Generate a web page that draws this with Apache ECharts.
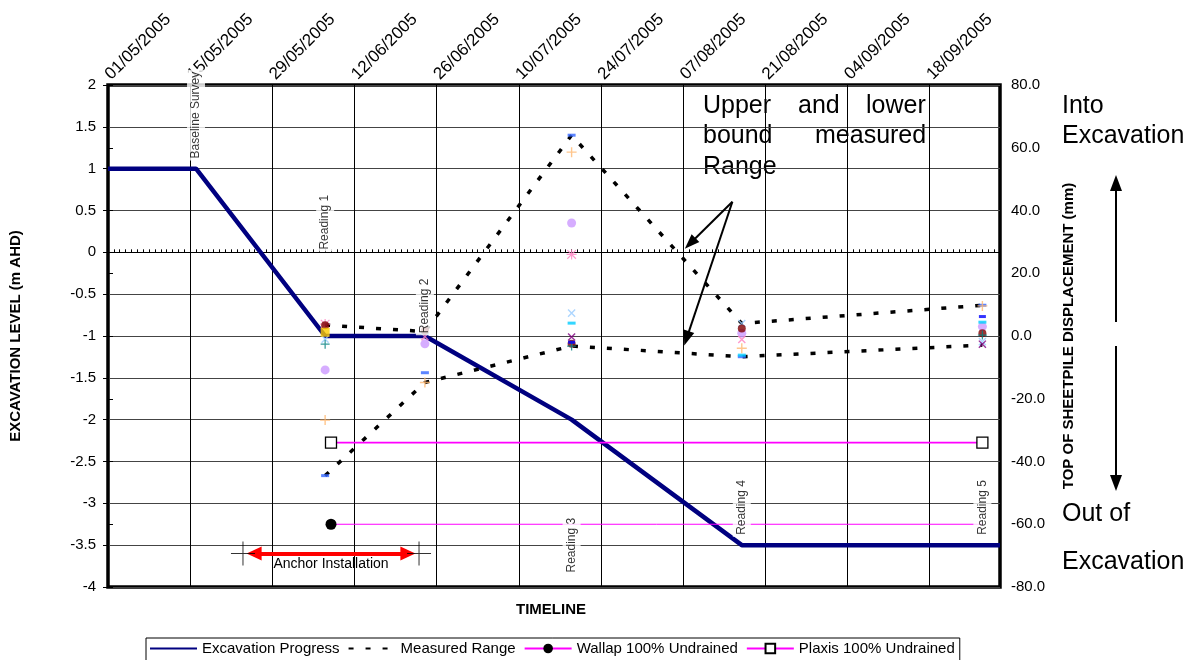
<!DOCTYPE html>
<html>
<head>
<meta charset="utf-8">
<script src="https://cdn.jsdelivr.net/npm/echarts@6/dist/echarts.min.js"></script>
<style>html,body{margin:0;padding:0;background:#fff}#c{width:1199px;height:660px}</style>
</head>
<body>
<div id="c"></div>
<script>
// ---------- data ----------
const axisStartDate = '01/05/2005';
const axisEndDate = '30/09/2005';
const tickIntervalDays = 14;

const excavationDates = ['01/05/2005','16/05/2005','07/06/2005','24/06/2005','19/07/2005','17/08/2005','30/09/2005'];
const excavationLevels = [1, 1, -1, -1, -2, -3.5, -3.5];

const readingDates = ['07/06/2005','24/06/2005','19/07/2005','17/08/2005','27/09/2005'];
const upperBound = [3.5, 1.4, 64, 4.0, 9.8];
const lowerBound = [-44.5, -14.8, -3.2, -6.6, -2.9];

const predictionDates = ['08/06/2005','27/09/2005'];
const wallapValues = [-60, -60];
const plaxisValues = [-34, -34];

// individual inclinometer readings (mm)
const inclBlueDash = [-44.5, -11.7, 64, -6.6, 9.8];
const inclOrangePlus = [-26.8, -14.8, 58.6, -3.9, 9.6];
const inclPurpleCircle = [-10.8, -2.5, 36, 0.9, 3.0];
const inclPinkStar = [3.8, null, 26, null, null];
const inclPinkCross = [null, -0.2, null, -1.1, null];
const inclLightBlueCross = [-1.0, null, 7.3, 4.0, -1.8];
const inclCyanDash = [null, 0.9, 4.1, -6.1, 4.4];
const inclPurpleCross = [null, null, -0.3, null, -2.6];
const inclDarkRed = [3.4, 1.7, -2.5, 2.4, 0.9];
const inclTealPlus = [-2.6, null, -3.2, null, 0.3];
const inclYellowSquare = [1.2, null, null, null, null];
const inclBlueDash2 = [null, null, -2.0, null, 6.2];

const eventNames = ['Baseline Survey','Reading 1','Reading 2','Reading 3','Reading 4','Reading 5'];
const eventDates = ['16/05/2005','07/06/2005','24/06/2005','19/07/2005','17/08/2005','27/09/2005'];

const anchorDates = ['24/05/2005','23/06/2005'];
const anchorLabel = 'Anchor Installation';

// ---------- helpers ----------
function parseD(s){const p=s.split('/');return Date.UTC(+p[2],+p[1]-1,+p[0]);}
const t0 = parseD(axisStartDate);
function day(s){return Math.round((parseD(s)-t0)/86400000);}
function fmtDay(v){const d=new Date(t0+v*86400000);const dd=String(d.getUTCDate()).padStart(2,'0');const mm=String(d.getUTCMonth()+1).padStart(2,'0');return dd+'/'+mm+'/'+d.getUTCFullYear();}
const FONT = '"Liberation Sans", Arial, sans-serif';

const PLUS = 'path://M4.3,0H5.7V10H4.3Z M0,4.3H10V5.7H0Z';
const STAR = 'path://M4.4,0H5.6V10H4.4Z M0,4.4H10V5.6H0Z M1.1,0.3L9.7,8.9L8.9,9.7L0.3,1.1Z M8.9,0.3L9.7,1.1L1.1,9.7L0.3,8.9Z';
const BIGPLUS = 'path://M11.5,0H12.5V24H11.5Z M0,11.5H24V12.5H0Z';

function pts(dates, vals){return dates.map((d,i)=>vals[i]==null?null:[day(d), vals[i]]).filter(p=>p);}
function scatter(name, vals, symbol, size, color, rot){
  return {name, type:'scatter', xAxisIndex:0, yAxisIndex:1, data:pts(readingDates, vals), symbol, symbolSize:size, symbolRotate:rot||0, itemStyle:{color}, z:4, silent:true};
}

const maxDay = day(axisEndDate);
const chart = echarts.init(document.getElementById('c'), null, {renderer:'canvas'});
const labelLevels = [1.64, 0.36, -0.64, -3.5, -3.05, -3.05];
const legendTextStyle = {fontSize:15, color:'#000', fontFamily:FONT};

const option = {
  animation:false,
  textStyle:{fontFamily:FONT},
  grid:{left:102.5, right:199, top:85, bottom:73, show:true, borderColor:'#000', borderWidth:3.5, backgroundColor:'transparent'},
  legend:{
    data:[
      {name:'Excavation Progress', itemStyle:{opacity:0}},
      {name:'Measured Range', itemStyle:{opacity:0}},
      {name:'Wallap 100% Undrained'},
      {name:'Plaxis 100% Undrained'}
    ],
    left:146, top:638, borderColor:'#000', borderWidth:1, padding:[3,5,8,3], itemGap:8, itemWidth:47, itemHeight:12,
    textStyle:legendTextStyle
  },
  xAxis:[
    {type:'value', position:'top', min:0, max:maxDay, interval:tickIntervalDays,
     axisLine:{show:false}, axisTick:{show:false},
     axisLabel:{rotate:45, fontSize:17, color:'#000', margin:8, formatter:v=>fmtDay(v), showMaxLabel:false},
     splitLine:{show:true, lineStyle:{color:'#000', width:1}}},
    {type:'value', position:'bottom', min:0, max:maxDay, interval:tickIntervalDays,
     axisLine:{show:true, onZero:true, onZeroAxisIndex:0, lineStyle:{color:'#000', width:1.2}},
     axisTick:{show:true, inside:true, length:3, lineStyle:{color:'#000'}},
     minorTick:{show:true, splitNumber:14, length:3, lineStyle:{color:'#000'}},
     axisLabel:{show:false}, splitLine:{show:false}}
  ],
  yAxis:[
    {type:'value', position:'left', min:-4, max:2, interval:0.5,
     name:'EXCAVATION LEVEL (m AHD)', nameLocation:'middle', nameGap:85, nameRotate:90,
     nameTextStyle:{fontSize:15, fontWeight:'bold', color:'#000', fontFamily:FONT},
     axisLine:{show:false}, axisTick:{show:true, length:5, lineStyle:{color:'#000'}},
     axisLabel:{fontSize:15, color:'#000', margin:12},
     splitLine:{show:true, lineStyle:{color:'#444', width:1}}},
    {type:'value', position:'right', min:-80, max:80, interval:20,
     name:'TOP OF SHEETPILE DISPLACEMENT (mm)', nameLocation:'middle', nameGap:61, nameRotate:90,
     nameTextStyle:{fontSize:15, fontWeight:'bold', color:'#000', fontFamily:FONT},
     axisLine:{show:false}, axisTick:{show:true, length:5, lineStyle:{color:'#000'}},
     axisLabel:{fontSize:15, color:'#000', margin:11, formatter:v=>v.toFixed(1)},
     splitLine:{show:false}}
  ],
  series:[
    {name:'Excavation Progress', type:'line', xAxisIndex:0, yAxisIndex:0, data:pts(excavationDates, excavationLevels),
     symbol:'none', lineStyle:{color:'#000080', width:4.5}, itemStyle:{color:'#000080'}, z:3},
    {name:'Measured Range', type:'line', xAxisIndex:0, yAxisIndex:1, data:pts(readingDates, upperBound),
     symbol:'none', lineStyle:{color:'#000', width:3.5, type:[5,12]}, itemStyle:{color:'#000'}, z:3},
    {name:'Measured Range', type:'line', xAxisIndex:0, yAxisIndex:1, data:pts(readingDates, lowerBound),
     symbol:'none', lineStyle:{color:'#000', width:3.5, type:[5,12]}, itemStyle:{color:'#000'}, z:3},
    {name:'Wallap 100% Undrained', type:'line', xAxisIndex:0, yAxisIndex:1,
     data:pts(predictionDates, wallapValues).map((p,i)=>i===0?{value:p}:{value:p, symbol:'none'}),
     symbol:'circle', symbolSize:11, showAllSymbol:true, lineStyle:{color:'#FF00FF', width:1}, itemStyle:{color:'#000'}, z:3},
    {name:'Plaxis 100% Undrained', type:'line', xAxisIndex:0, yAxisIndex:1, data:pts(predictionDates, plaxisValues),
     symbol:'rect', symbolSize:11, showAllSymbol:true, lineStyle:{color:'#FF00FF', width:1.8},
     itemStyle:{color:'#fff', borderColor:'#000', borderWidth:1.3}, z:3},
    scatter('i1', inclBlueDash, 'rect', [8,3], '#3366FF'),
    scatter('i2', inclOrangePlus, PLUS, 10, '#FFB870'),
    scatter('i3', inclPurpleCircle, 'circle', 9, '#CC99FF'),
    scatter('i4', inclPinkStar, STAR, 10, '#FF80C0'),
    scatter('i5', inclPinkCross, PLUS, 10, '#FF80C0', 45),
    scatter('i6', inclLightBlueCross, PLUS, 10, '#99CCFF', 45),
    scatter('i7', inclCyanDash, 'rect', [8,3], '#00CCFF'),
    scatter('i8', inclPurpleCross, PLUS, 10, '#800080', 45),
    scatter('i9', inclDarkRed, 'circle', 8, '#800000'),
    scatter('i10', inclTealPlus, PLUS, 9, '#008080'),
    scatter('i11', inclYellowSquare, 'rect', 9, '#FFCC00'),
    scatter('i12', inclBlueDash2, 'rect', [7,3], '#0000FF'),
    // event labels
    {name:'events', type:'scatter', xAxisIndex:0, yAxisIndex:0, symbol:'circle', symbolSize:1, silent:true, z:10,
     itemStyle:{color:'rgba(0,0,0,0)'},
     data:eventDates.map((d,i)=>({name:eventNames[i], value:[day(d), labelLevels[i]]})),
     label:{show:true, position:'inside', rotate:90, formatter:p=>p.name, fontSize:12, color:'#000',
            backgroundColor:'#fff', padding:[3,2], fontFamily:FONT}},
    // anchor installation
    {name:'anchor', type:'scatter', xAxisIndex:0, yAxisIndex:0, silent:true, z:6,
     data:anchorDates.map(d=>[day(d), -3.6]), symbol:BIGPLUS, symbolSize:24, itemStyle:{color:'#000'},
     markLine:{silent:true, symbol:['triangle','triangle'], symbolSize:[14,15], animation:false,
       lineStyle:{color:'#FF0000', width:4, type:'solid'}, itemStyle:{color:'#FF0000'},
       label:{show:true, position:'insideMiddleBottom', formatter:anchorLabel, fontSize:14, color:'#000', distance:4, fontFamily:FONT},
       data:[[{coord:[day(anchorDates[0])+1.9, -3.6]},{coord:[day(anchorDates[1])-1.9, -3.6]}]]}},
    // annotation arrows
    {name:'arrows', type:'line', xAxisIndex:0, yAxisIndex:1, data:[], silent:true, z:7,
     markLine:{silent:true, symbol:['none','triangle'], symbolSize:[11,15], animation:false,
       lineStyle:{color:'#000', width:2, type:'solid'}, itemStyle:{color:'#000'}, label:{show:false},
       data:[[{coord:[106.4, 42.8]},{coord:[99.2, 29.5]}],[{coord:[106.4, 42.8]},{coord:[98.6, -0.75]}]]}}
  ],
  graphic:[
    {type:'text', left:703, top:94, style:{text:'Upper', font:'25px '+FONT, fill:'#000'}},
    {type:'text', left:798, top:94, style:{text:'and', font:'25px '+FONT, fill:'#000'}},
    {type:'text', left:866, top:94, style:{text:'lower', font:'25px '+FONT, fill:'#000'}},
    {type:'text', left:703, top:124, style:{text:'bound', font:'25px '+FONT, fill:'#000'}},
    {type:'text', left:815, top:124, style:{text:'measured', font:'25px '+FONT, fill:'#000'}},
    {type:'text', left:703, top:155, style:{text:'Range', font:'25px '+FONT, fill:'#000'}},
    {type:'text', left:1062, top:94, style:{text:'Into', font:'25px '+FONT, fill:'#000'}},
    {type:'text', left:1062, top:124, style:{text:'Excavation', font:'25px '+FONT, fill:'#000'}},
    {type:'text', left:1062, top:502, style:{text:'Out of', font:'25px '+FONT, fill:'#000'}},
    {type:'text', left:1062, top:550, style:{text:'Excavation', font:'25px '+FONT, fill:'#000'}},
    {type:'line', shape:{x1:1116, y1:322, x2:1116, y2:188}, style:{stroke:'#000', lineWidth:2}},
    {type:'polygon', shape:{points:[[1116,175],[1110,191],[1122,191]]}, style:{fill:'#000'}},
    {type:'line', shape:{x1:1116, y1:346, x2:1116, y2:478}, style:{stroke:'#000', lineWidth:2}},
    {type:'polygon', shape:{points:[[1116,491],[1110,475],[1122,475]]}, style:{fill:'#000'}},
    {type:'text', x:551, y:610, style:{text:'TIMELINE', font:'bold 15px '+FONT, fill:'#000', align:'center', verticalAlign:'middle'}}
  ]
};
chart.setOption(option);
</script>
</body>
</html>
